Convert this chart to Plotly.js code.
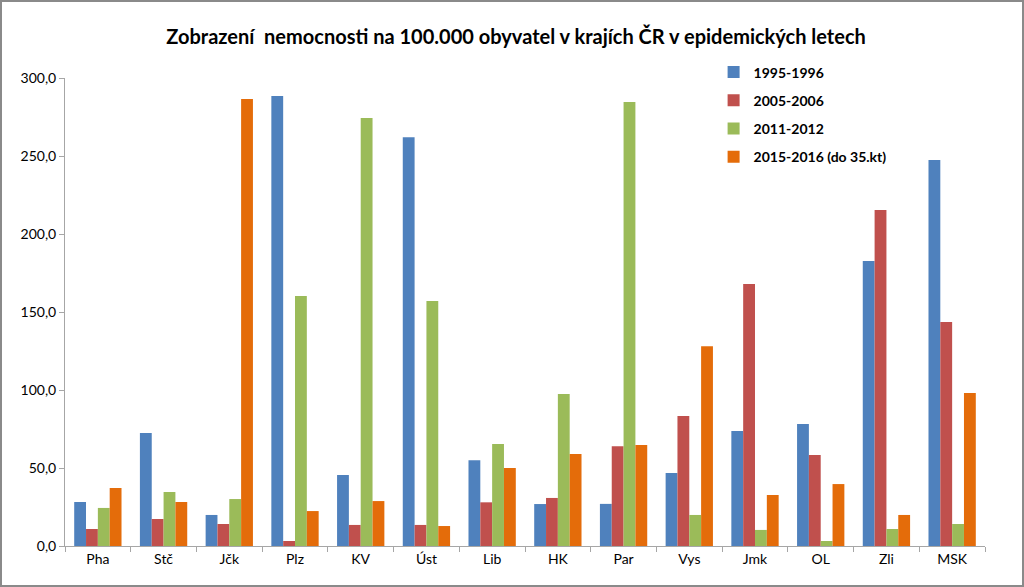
<!DOCTYPE html>
<html><head><meta charset="utf-8">
<script src="https://cdn.plot.ly/plotly-3.0.1.min.js"></script>
<style>
html,body{margin:0;padding:0;background:#fff;}
#wrap{width:1020px;height:583px;border:2px solid #8a8a8a;}
#chart{width:1020px;height:583px;}
</style></head><body>
<div id="wrap"><div id="chart"></div></div>
<script>
const categories = ["Pha","Stč","Jčk","Plz","KV","Úst","Lib","HK","Par","Vys","Jmk","OL","Zli","MSK"];
const seriesNames = ["1995-1996","2005-2006","2011-2012","2015-2016 (do 35.kt)"];
const s1995 = [28.2,72.4,19.9,288.5,45.5,262.0,55.0,26.9,27.0,46.8,73.7,78.2,182.7,247.4];
const s2005 = [10.9,17.3,14.1,3.2,13.5,13.5,28.0,30.8,64.0,83.3,168.0,58.3,215.4,143.6];
const s2011 = [24.4,34.6,30.1,160.3,274.4,157.0,65.4,97.4,284.6,19.9,10.3,3.2,10.9,14.1];
const s2015 = [37.2,28.2,286.5,22.4,28.8,12.8,50.0,59.0,64.7,128.0,32.7,39.7,19.9,98.0];
const colors = ["#4F81BD","#C0504D","#9BBB59","#E46C0A"];
const values = [s1995,s2005,s2011,s2015];
const font = "Lato, 'Open Sans', sans-serif";
const traces = values.map((v,i)=>({
  type:"bar", name:seriesNames[i], x:categories, y:v, legendgroup:"g"+i,
  marker:{color:colors[i]}, hoverinfo:"skip"
}));
const layout = {
  width:1020, height:583,
  margin:{l:63,r:37,t:76,b:39},
  paper_bgcolor:"#fff", plot_bgcolor:"#fff",
  separators:", ",
  font:{family:font,size:14,color:"#000"},
  title:{text:"<b>Zobrazení  nemocnosti na 100.000 obyvatel v krajích ČR v epidemických letech</b>",
         font:{family:font,size:20,color:"#000"}, x:0.504, xanchor:"center", y:0.94, yanchor:"middle"},
  barmode:"group", bargap:0.28, bargroupgap:0,
  xaxis:{type:"category", showline:true, linecolor:"#a6a6a6", linewidth:1,
         ticks:"outside", tickson:"boundaries", ticklen:5, tickcolor:"#a6a6a6",
         showgrid:false, tickfont:{family:font,size:14}},
  yaxis:{range:[0,300], dtick:50, tickformat:".1f", showline:true, linecolor:"#a6a6a6",
         linewidth:1, ticks:"outside", ticklen:5, tickcolor:"#a6a6a6", showgrid:false,
         zeroline:false, tickfont:{family:font,size:14}},
  legend:{x:0.705, y:1.046, xanchor:"left", yanchor:"top", font:{family:font,size:14,weight:"bold"},
          itemwidth:30, traceorder:"grouped", tracegroupgap:7, bgcolor:"rgba(0,0,0,0)"},
  showlegend:true
};
Plotly.newPlot("chart", traces, layout, {displayModeBar:false, staticPlot:true});
</script></body></html>
